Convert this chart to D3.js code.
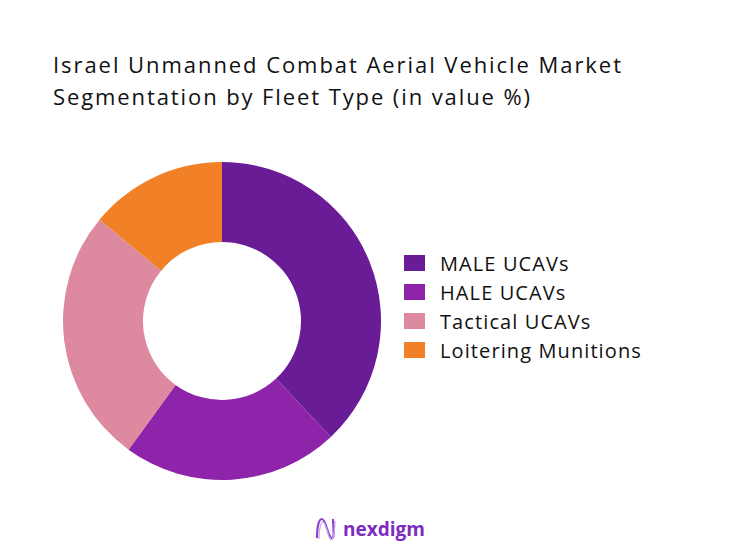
<!DOCTYPE html>
<meta charset="utf-8">
<script src="https://d3js.org/d3.v7.min.js"></script>
<style>
body { margin:0; background:#fff; }
svg { display:block; }
.title { font-family:"Open Sans", sans-serif; font-size:22px; fill:#111; }
.legend text { font-family:"Open Sans", sans-serif; font-size:20px; letter-spacing:1.1px; fill:#111; }
.brand { font-family:"Open Sans", sans-serif; font-weight:700; font-size:19px; fill:#7B2CBF; }
</style>
<body></body>
<script>

var categories = ["MALE UCAVs", "HALE UCAVs", "Tactical UCAVs", "Loitering Munitions"];
var values = [38, 22, 26, 14];
var colors = ["#6A1B96", "#8E24AA", "#DD8AA0", "#F28026"];
var titleLines = ["Israel Unmanned Combat Aerial Vehicle Market",
                  "Segmentation by Fleet Type (in value %)"];
var titleWidths = [568, 477];

var width = 741, height = 553;

var svg = d3.select("body").append("svg")
  .attr("width", width)
  .attr("height", height);

svg.selectAll(".title")
  .data(titleLines).enter().append("text")
  .attr("class", "title")
  .attr("x", 53)
  .attr("y", function(d, i) { return 73 + i * 32; })
  .attr("textLength", function(d, i) { return titleWidths[i]; })
  .attr("lengthAdjust", "spacing")
  .text(function(d) { return d; });

var data = categories.map(function(c, i) { return {name: c, value: values[i], color: colors[i]}; });

var pie = d3.pie()
  .value(function(d) { return d.value; })
  .sort(null);

var arc = d3.arc()
  .innerRadius(79)
  .outerRadius(159);

var g = svg.append("g")
  .attr("transform", "translate(222,321)");

g.selectAll("path")
  .data(pie(data)).enter().append("path")
  .attr("d", arc)
  .attr("fill", function(d) { return d.data.color; });

var legend = svg.append("g")
  .attr("class", "legend")
  .attr("transform", "translate(404,255)");

var item = legend.selectAll("g")
  .data(data).enter().append("g")
  .attr("transform", function(d, i) { return "translate(0," + i * 29 + ")"; });

item.append("rect")
  .attr("width", 21)
  .attr("height", 16)
  .attr("fill", function(d) { return d.color; });

item.append("text")
  .attr("x", 36)
  .attr("y", 15.5)
  .text(function(d) { return d.name; });

// logo
var logo = svg.append("g").attr("transform", "translate(316,518)");
logo.append("path")
  .attr("d", "M1,20 C1,8 3,1 6,1 C10,1 12,20 16,20 C19,20 17,6 17,1")
  .attr("fill", "none").attr("stroke", "#8E44D0").attr("stroke-width", 2.2);
logo.append("path")
  .attr("d", "M3,21 C3,10 5,4 7,4 C11,4 12,22 15,22 C18,22 19,8 19,3")
  .attr("fill", "none").attr("stroke", "#C9A4EA").attr("stroke-width", 1.2);
svg.append("text")
  .attr("class", "brand")
  .attr("x", 343)
  .attr("y", 536)
  .text("nexdigm");

</script>
